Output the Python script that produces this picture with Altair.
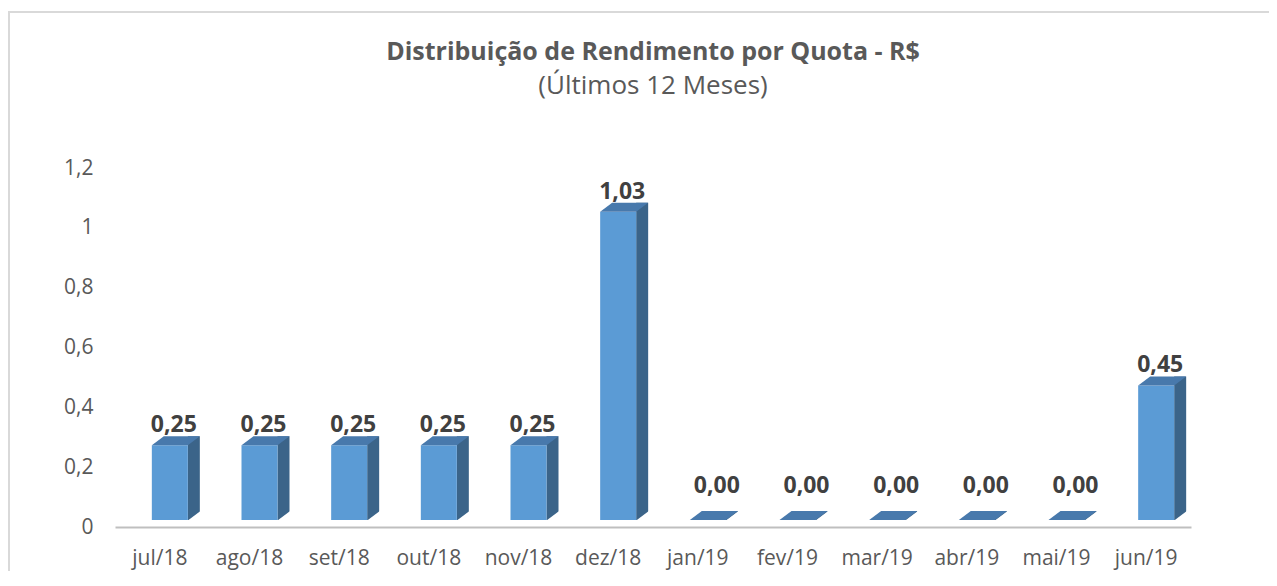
import altair as alt
import pandas as pd

months = ["jul/18", "ago/18", "set/18", "out/18", "nov/18", "dez/18",
          "jan/19", "fev/19", "mar/19", "abr/19", "mai/19", "jun/19"]
values = [0.25, 0.25, 0.25, 0.25, 0.25, 1.03, 0.00, 0.00, 0.00, 0.00, 0.00, 0.45]
y_ticks = [0, 0.2, 0.4, 0.6, 0.8, 1.0, 1.2]

df = pd.DataFrame({"mes": months, "valor": values})
df["zero"] = 0.0
df["rotulo"] = [f"{v:.2f}".replace(".", ",") for v in values]

FONT = "Open Sans"
FRONT = "#5B9BD5"
SIDE = "#3B6489"
TOP = "#4879AC"

yscale = alt.Scale(domain=[0, 1.2], nice=False)

x = alt.X("mes:N", sort=months, title=None,
          scale=alt.Scale(paddingInner=0, paddingOuter=0),
          axis=alt.Axis(labelAngle=0, labelFont=FONT, labelFontSize=21,
                        labelColor="#595959", ticks=False, domainColor="#BFBFBF",
                        domainWidth=2, labelPadding=20, grid=False))
y = alt.Y("valor:Q", title=None, scale=yscale,
          axis=alt.Axis(values=y_ticks, labelFont=FONT, labelFontSize=21,
                        labelColor="#595959", ticks=False, domain=False, grid=False,
                        labelPadding=22,
                        labelExpr="replace(format(datum.value, '~g'), '.', ',')"))

base = alt.Chart(df)

side = base.mark_bar(size=12, xOffset=34, yOffset=-16, y2Offset=-7,
                     color=SIDE).encode(x=x, y=y, y2="zero:Q")
cover = base.mark_point(shape="M 28 -6.5 L 42 -6.5 L 42 -17 Z", size=4,
                        filled=True, opacity=1, color="white",
                        strokeWidth=0).encode(x=x, y=alt.Y("zero:Q", scale=yscale))
front = base.mark_bar(size=36, xOffset=10, yOffset=-7, y2Offset=-7,
                      color=FRONT).encode(x=x, y=y, y2="zero:Q")
top = base.mark_point(shape="M -8 -7 L 28 -7 L 40 -16 L 4 -16 Z", size=4,
                      filled=True, opacity=1, color=TOP,
                      strokeWidth=0).encode(x=x, y=y)
lab_pos = base.transform_filter("datum.valor > 0").mark_text(
    font=FONT, fontSize=23, fontWeight="bold", color="#404040",
    dx=14, dy=-20, baseline="alphabetic").encode(x=x, y=y, text="rotulo:N")
lab_zero = base.transform_filter("datum.valor == 0").mark_text(
    font=FONT, fontSize=23, fontWeight="bold", color="#404040",
    dx=19, dy=-34, baseline="alphabetic").encode(x=x, y=y, text="rotulo:N")

border_left = base.mark_rule(color="#D9D9D9", strokeWidth=2).encode(
    x=alt.value(-106), y=alt.value(-156), y2=alt.value(404))
border_top = base.mark_rule(color="#D9D9D9", strokeWidth=2).encode(
    x=alt.value(-107), x2=alt.value(1160), y=alt.value(-156))

chart = alt.layer(border_left, border_top, side, cover, front, top, lab_pos, lab_zero).properties(
    width=1076, height=359,
    autosize=alt.AutoSizeParams(type="none"),
    padding={"left": 107, "top": 160, "right": 78, "bottom": 44},
    title=alt.TitleParams(
        text="Distribuição de Rendimento por Quota - R$",
        subtitle="(Últimos 12 Meses)",
        anchor="middle", font=FONT, fontSize=25, fontWeight="bold", color="#595959",
        subtitleFont=FONT, subtitleFontSize=26, subtitleColor="#595959",
        subtitlePadding=8, offset=-88),
).configure_view(stroke=None, strokeWidth=0)

chart.save("out.html", embed_options={"renderer": "svg", "actions": False})
